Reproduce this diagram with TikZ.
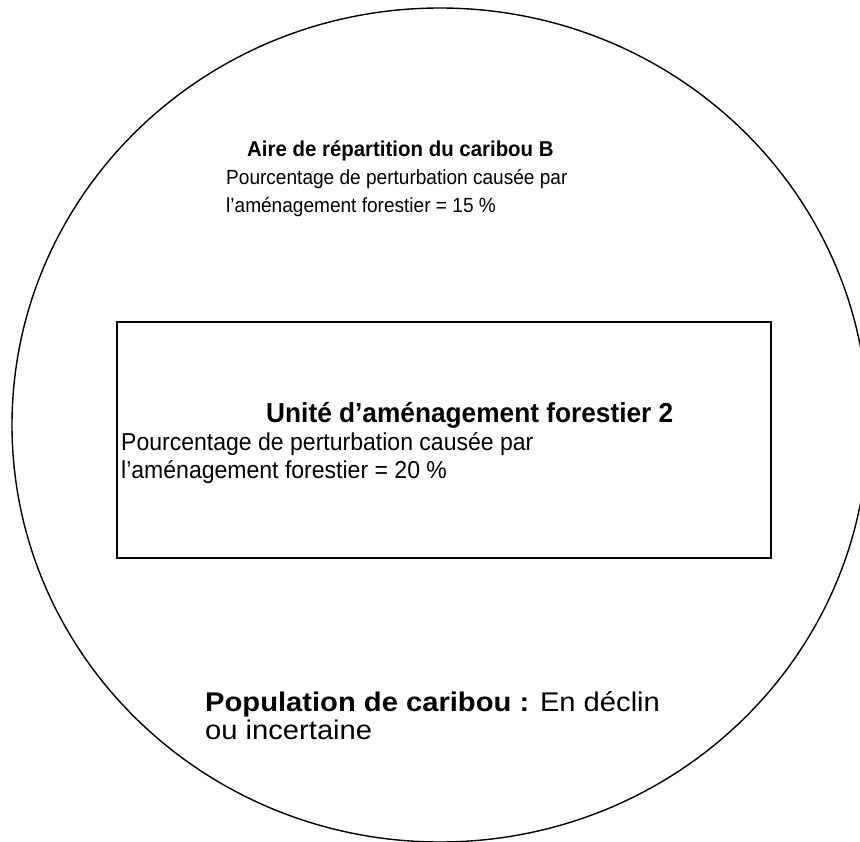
\documentclass[tikz,border=0pt]{standalone}
\usepackage{fontspec}
\setmainfont{Liberation Sans}
\tikzset{
  txt/.style = {anchor=base west, inner sep=0pt, font=\fontsize{20.5}{27}\selectfont},
  txtb/.style = {txt, font=\fontsize{21.5}{27}\selectfont\bfseries},
  boxtxt/.style = {txt, font=\fontsize{24.5}{28}\selectfont},
  boxtxtb/.style = {txt, font=\fontsize{27.5}{28}\selectfont\bfseries},
  poptxt/.style = {txt, font=\fontsize{27}{28}\selectfont},
}
\newcommand{\sx}[2]{\scalebox{#1}[1]{#2}}
\begin{document}
\begin{tikzpicture}[x=1pt, y=-1pt]
\useasboundingbox (0,0) rectangle (860,842);
\clip (0,0) rectangle (860,842);
\draw [line width=1.4pt] (440,425) ellipse [x radius=428pt, y radius=417pt];
\node [txtb] (aireT) at (247,157) {\sx{0.95}{Aire de répartition du caribou B}};
\node [txt] (aireA) at (226,185) {\sx{0.93}{Pourcentage de perturbation causée par}};
\node [txt] (aireB) at (226,213) {\sx{0.93}{l’aménagement forestier = 15 \%}};
\draw [line width=1.4pt] (117,322) rectangle (771,558);
\node [boxtxtb] (ufaT) at (266,423) {\sx{0.955}{Unité d’aménagement forestier 2}};
\node [boxtxt] (ufaA) at (121,450) {\sx{0.94}{Pourcentage de perturbation causée par}};
\node [boxtxt] (ufaB) at (121,478) {\sx{0.94}{l’aménagement forestier = 20 \%}};
\node [poptxt] (popA) at (205,711) {\sx{1.08}{\textbf{Population de caribou :} En déclin}};
\node [poptxt] (popB) at (205,739) {\sx{1.08}{ou incertaine}};
\end{tikzpicture}
\end{document}
